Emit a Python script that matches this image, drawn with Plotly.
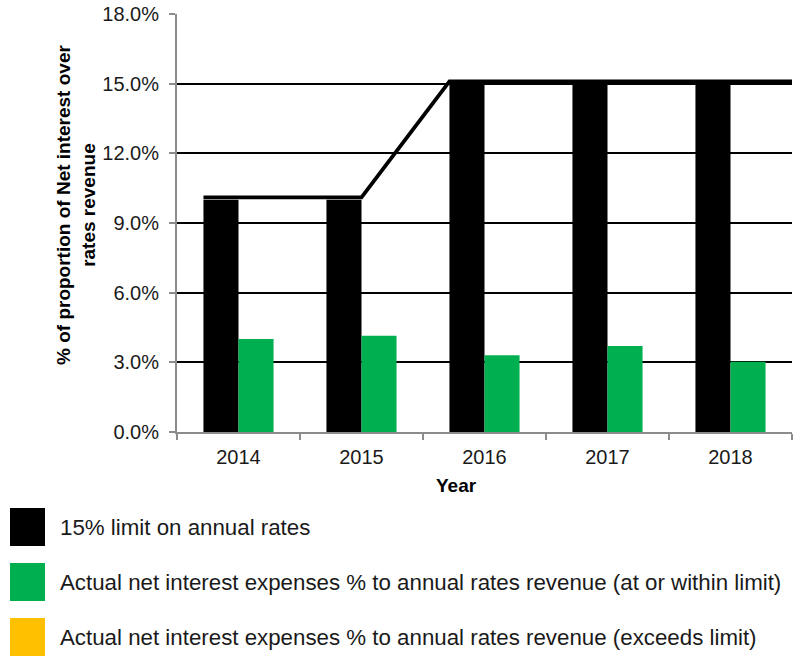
import plotly.graph_objects as go

# ---- data ----
years = ["2014", "2015", "2016", "2017", "2018"]
limit_pct = [10, 10, 15, 15, 15]            # 15% limit on annual rates (bars)
actual_pct = [4.0, 4.15, 3.3, 3.7, 3.03]     # actual net interest % (within limit)
exceeds_pct = [None, None, None, None, None] # exceeds limit (none)
limit_line_pct = [10.1, 10.1, 15.1, 15.1]    # drawn limit step line
y_ticks = [0, 3, 6, 9, 12, 15, 18]

series_names = [
    "15% limit on annual rates",
    "Actual net interest expenses % to annual rates revenue (at or within limit)",
    "Actual net interest expenses % to annual rates revenue (exceeds limit)",
]
colors = ["#000000", "#00B050", "#FFC000"]

FONT = "Liberation Sans, Arial, sans-serif"
W, H = 800, 656
L, R, T, B = 177, 8, 14, 224
pw, ph = W - L - R, H - T - B

bw = 0.285  # bar width in category units
xs = list(range(len(years)))

fig = go.Figure()
fig.add_bar(x=xs, y=limit_pct, width=bw, offset=-bw, marker_color=colors[0],
            marker_line_width=0, name=series_names[0], showlegend=False)
fig.add_bar(x=xs, y=actual_pct, width=bw, offset=0, marker_color=colors[1],
            marker_line_width=0, name=series_names[1], showlegend=False)
fig.add_bar(x=xs, y=exceeds_pct, width=bw, offset=0, marker_color=colors[2],
            marker_line_width=0, name=series_names[2], showlegend=False)

# step line: starts at 2014 bar left edge, flat to 2015, rises to 2016 bar left edge, runs to plot end
line_x = [xs[0] - bw, xs[1], xs[2] - bw, len(years) - 0.5]
fig.add_scatter(x=line_x, y=limit_line_pct, mode="lines",
                line=dict(color="#000000", width=3.8), showlegend=False, hoverinfo="skip")

fig.update_layout(
    width=W, height=H, margin=dict(l=L, r=R, t=T, b=B, autoexpand=False),
    paper_bgcolor="white", plot_bgcolor="white",
    font=dict(family=FONT, size=20, color="#1a1a1a"),
    barmode="overlay", showlegend=False,
)
fig.update_xaxes(
    range=[-0.5, len(years) - 0.5], tickvals=xs, ticktext=years, ticks="",
    showline=True, linecolor="#8c8c8c", linewidth=2, showgrid=False, zeroline=False,
    tickfont=dict(size=20, family=FONT, color="#1a1a1a"), ticklabelstandoff=6,
    minor=dict(ticks="outside", tick0=-0.5, dtick=1, ticklen=6, tickwidth=2,
               tickcolor="#8c8c8c", showgrid=False),
    automargin=False,
)
fig.update_yaxes(
    range=[0, 18], tickvals=y_ticks, ticktext=[f"{v:.1f}%" for v in y_ticks],
    ticks="outside", ticklen=6, tickwidth=2, tickcolor="#8c8c8c",
    showline=True, linecolor="#8c8c8c", linewidth=2,
    showgrid=True, gridcolor="#000000", gridwidth=2, zeroline=False,
    tickfont=dict(size=20, family=FONT, color="#1a1a1a"), ticklabelstandoff=6,
    automargin=False,
)

def px2x(px):
    return (px - L) / pw

def py2y(py):
    return (H - B - py) / ph

# axis titles
fig.add_annotation(xref="paper", yref="paper", x=px2x(456), y=py2y(485),
                   text="<b>Year</b>", showarrow=False, xanchor="center", yanchor="middle",
                   font=dict(size=19, family=FONT, color="#000"))
fig.add_annotation(xref="paper", yref="paper", x=px2x(76), y=py2y(205),
                   text="<b>% of proportion of Net interest over<br>rates revenue</b>",
                   textangle=-90, showarrow=False, xanchor="center", yanchor="middle",
                   font=dict(size=19, family=FONT, color="#000"))

# custom legend (large swatches)
legend_rows = [527, 582, 637]
for name, col, cy in zip(series_names, colors, legend_rows):
    fig.add_shape(type="rect", xref="paper", yref="paper",
                  x0=px2x(10), x1=px2x(45), y0=py2y(cy + 19), y1=py2y(cy - 19),
                  fillcolor=col, line_width=0)
    fig.add_annotation(xref="paper", yref="paper", x=px2x(58), y=py2y(cy),
                       xanchor="left", yanchor="middle", text=name, showarrow=False,
                       font=dict(size=22.3, family=FONT, color="#1a1a1a"))

fig.write_html("out.html")
